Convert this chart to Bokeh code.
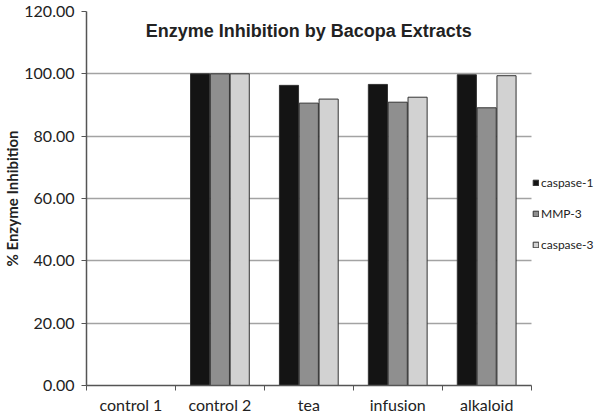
import numpy as np
from bokeh.plotting import figure
from bokeh.models import (Range1d, FixedTicker, NumeralTickFormatter, Label, Legend)
from bokeh.embed import file_html
from bokeh.resources import INLINE

categories = ["control 1", "control 2", "tea", "infusion", "alkaloid"]
caspase1 = [0.0, 100.0, 96.3, 96.6, 99.7]
mmp3 = [0.0, 100.0, 90.6, 90.9, 89.1]
caspase3 = [0.0, 100.0, 91.9, 92.5, 99.4]
series_names = ["caspase-1", "MMP-3", "caspase-3"]
y_ticks = [0, 20, 40, 60, 80, 100, 120]

n = len(categories)
p = figure(width=596, height=416, output_backend="svg", toolbar_location=None,
           x_range=Range1d(0, n + 0.735), y_range=Range1d(0, 120),
           min_border_left=80, min_border_right=0, min_border_top=11, min_border_bottom=26)
p.outline_line_color = None
p.background_fill_color = "white"
p.border_fill_color = "white"

centers = np.arange(n) + 0.5
colors = ["#141414", "#8f8f8f", "#d2d2d2"]
offsets = [-0.223, 0.0, 0.223]
renderers = []
for vals, col, off, name in zip([caspase1, mmp3, caspase3], colors, offsets, series_names):
    r = p.vbar(x=centers + off, top=vals, bottom=0, width=0.215, fill_color=col,
               line_color="#333333", line_width=1)
    renderers.append((name, [r]))

# axes
p.yaxis.ticker = FixedTicker(ticks=y_ticks)
p.yaxis.formatter = NumeralTickFormatter(format="0.00")
p.yaxis.major_label_text_font = "Lato"
p.yaxis.major_label_text_font_size = "16px"
p.yaxis.major_label_text_color = "#222222"
p.yaxis.major_label_standoff = 7
p.yaxis.major_tick_out = 5
p.yaxis.major_tick_in = 0
p.yaxis.minor_tick_line_color = None
p.yaxis.axis_line_color = "#555555"
p.yaxis.major_tick_line_color = "#555555"
p.yaxis.axis_line_width = 1.5
p.yaxis.axis_label = "% Enzyme Inhibition"
p.yaxis.axis_label_text_font = "Lato"
p.yaxis.axis_label_text_font_style = "bold"
p.yaxis.axis_label_text_font_size = "15px"
p.yaxis.axis_label_text_color = "#222222"
p.yaxis.axis_label_standoff = 0

p.xaxis.bounds = (0, n)
p.xaxis.ticker = FixedTicker(ticks=list(centers), minor_ticks=list(np.arange(n + 1)))
p.xaxis.major_label_overrides = {float(c): s for c, s in zip(centers, categories)}
p.xaxis.major_tick_line_color = None
p.xaxis.minor_tick_out = 5
p.xaxis.minor_tick_in = 0
p.xaxis.minor_tick_line_color = "#555555"
p.xaxis.axis_line_color = "#555555"
p.xaxis.axis_line_width = 1.5
p.xaxis.major_label_text_font = "Lato"
p.xaxis.major_label_text_font_size = "16px"
p.xaxis.major_label_text_color = "#222222"
p.xaxis.major_label_standoff = 3

p.xgrid.grid_line_color = None
p.ygrid.ticker = FixedTicker(ticks=y_ticks)
p.ygrid.cross_bounds = (0, n)
p.ygrid.grid_line_color = "#a3a3a3"
p.ygrid.grid_line_width = 1.5

title = Label(x=n / 2, y=113.7, text="Enzyme Inhibition by Bacopa Extracts",
              text_font="Liberation Sans", text_font_style="bold", text_font_size="18px",
              text_align="center", text_baseline="middle", text_color="#222222")
p.add_layout(title)

legend = Legend(items=renderers, location=(446, 133), orientation="vertical",
                glyph_width=7, glyph_height=7, label_height=12, spacing=16,
                padding=0, margin=0, border_line_color=None, background_fill_alpha=0,
                label_text_font="Lato", label_text_font_size="12px", label_text_color="#222222",
                label_standoff=2)
p.add_layout(legend)

open("out.html", "w").write(file_html(p, INLINE))
